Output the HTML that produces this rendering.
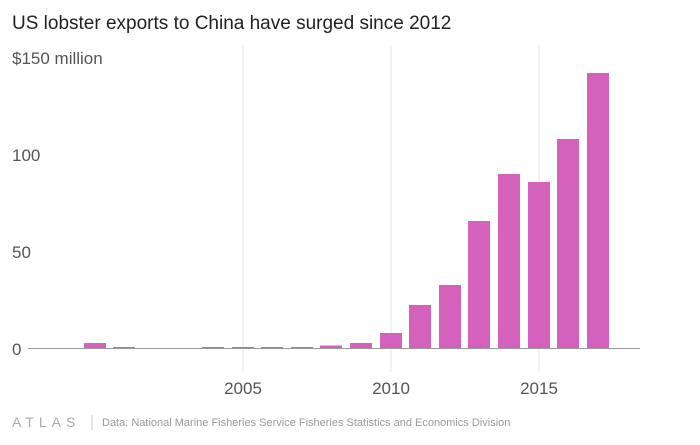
<!DOCTYPE html>
<html><head><style>
body{margin:0;width:700px;height:440px;background:#fff;overflow:hidden;font-family:"Liberation Sans",sans-serif}
</style></head><body>
<svg width="700" height="440" xmlns="http://www.w3.org/2000/svg" font-family="Liberation Sans, sans-serif">
<rect width="700" height="440" fill="#fff"/>
<text x="12" y="29" font-size="19" fill="#222">US lobster exports to China have surged since 2012</text>
<g stroke="#e6e6e6" stroke-width="1">
<line x1="243" y1="45" x2="243" y2="372"/>
<line x1="391" y1="45" x2="391" y2="372"/>
<line x1="539" y1="45" x2="539" y2="372"/>
</g>
<g fill="#555" font-size="17">
<text x="12" y="64">$150 million</text>
<text x="12" y="161">100</text>
<text x="12" y="258">50</text>
<text x="12" y="355">0</text>
<text x="243" y="394" text-anchor="middle">2005</text>
<text x="391" y="394" text-anchor="middle">2010</text>
<text x="539" y="394" text-anchor="middle">2015</text>
</g>
<g fill="#d462bc">
<rect x="84" y="343" width="22" height="5"/>
<rect x="113" y="347" width="22" height="1.5"/>
<rect x="202" y="347" width="22" height="1.5"/>
<rect x="232" y="347" width="22" height="1.5"/>
<rect x="261" y="347" width="22" height="1.5"/>
<rect x="291" y="347" width="22" height="1.5"/>
<rect x="320" y="345.5" width="22" height="3"/>
<rect x="350" y="343" width="22" height="5"/>
<rect x="380" y="333" width="22" height="15"/>
<rect x="409" y="305" width="22" height="43"/>
<rect x="439" y="285" width="22" height="63"/>
<rect x="468" y="221" width="22" height="127"/>
<rect x="498" y="174" width="22" height="174"/>
<rect x="528" y="182" width="22" height="166"/>
<rect x="557" y="139" width="22" height="209"/>
<rect x="587" y="73" width="22" height="275"/>
</g>
<line x1="28" y1="348.5" x2="640" y2="348.5" stroke="#999" stroke-width="1"/>
<text x="12" y="427" font-size="14" fill="#aaa" letter-spacing="5">ATLAS</text>
<line x1="92" y1="415" x2="92" y2="430" stroke="#ccc"/>
<text x="102" y="426" font-size="11" fill="#999">Data: National Marine Fisheries Service Fisheries Statistics and Economics Division</text>
</svg>
</body></html>
